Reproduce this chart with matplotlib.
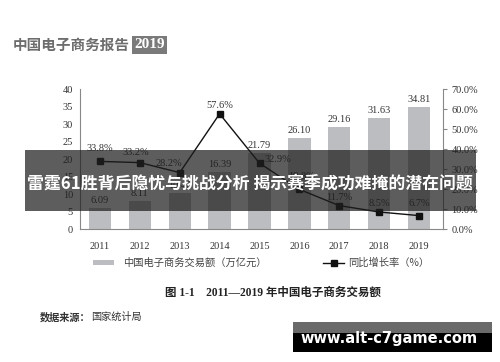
import matplotlib.pyplot as plt
from matplotlib.patches import Rectangle
from matplotlib.lines import Line2D

plt.rcParams['font.family'] = ['Liberation Serif', 'Noto Sans CJK SC']

years = ['2011', '2012', '2013', '2014', '2015', '2016', '2017', '2018', '2019']
volume = [6.09, 8.11, 10.40, 16.39, 21.79, 26.10, 29.16, 31.63, 34.81]
growth = [33.8, 33.2, 28.2, 57.6, 32.9, 19.8, 11.7, 8.5, 6.7]
left_ticks = [0, 5, 10, 15, 20, 25, 30, 35, 40]
right_ticks = [0, 10, 20, 30, 40, 50, 60, 70]

# label offsets for the growth labels (pixels)
growth_off = [(0, 8), (-4, 6), (-11, 5), (0, 4), (18, -1), (2, 8), (0, 4), (0, 4), (0, 8)]

bar_color = '#bcbdc0'
spine_color = '#888888'

fig = plt.figure(figsize=(5, 3.62), dpi=100)
ax = fig.add_axes([0.16, 0.3674, 0.726, 0.3867])
ax2 = ax.twinx()

x = list(range(len(years)))
ax.bar(x, volume, width=0.56, color=bar_color, zorder=2)
for xi, v in zip(x, volume):
    ax.annotate(f'{v:.2f}', (xi, v), xytext=(0, 3), textcoords='offset pixels',
                ha='center', va='bottom', fontsize=7.5, color='#333333')

ax.set_xlim(-0.5, 8.6)
ax.set_ylim(0, 40)
ax.set_xticks(x)
ax.set_xticklabels(years)
ax.set_yticks(left_ticks)
ax.tick_params(axis='both', length=0, labelsize=7.5, colors='#333333', pad=5)
ax.tick_params(axis='x', pad=9)
for s in ['top', 'right']:
    ax.spines[s].set_visible(False)
for s in ['left', 'bottom']:
    ax.spines[s].set_color(spine_color)
    ax.spines[s].set_linewidth(0.8)

ax2.plot(x, growth, color='#111111', lw=1.0, marker='s', ms=4, zorder=3)
for xi, g, (dx, dy) in zip(x, growth, growth_off):
    ax2.annotate(f'{g}%', (xi, g), xytext=(dx, dy), textcoords='offset pixels',
                 ha='center', va='bottom', fontsize=7.5, color='#333333')
ax2.set_ylim(0, 70)
ax2.set_yticks(right_ticks)
ax2.set_yticklabels([f'{t:.1f}%' for t in right_ticks])
ax2.tick_params(axis='y', length=3, width=0.8, color=spine_color, labelsize=7.5,
                labelcolor='#333333', pad=3)
for s in ['top', 'left', 'bottom']:
    ax2.spines[s].set_visible(False)
ax2.spines['right'].set_color(spine_color)
ax2.spines['right'].set_linewidth(0.8)

# header
fig.text(0.026, 0.876, '中国电子商务报告', family='Noto Sans CJK SC', fontweight='bold',
         fontsize=10.5, color='#6d6d6d', va='center')
fig.text(0.268, 0.876, '2019', fontweight='bold', fontsize=11, color='white', va='center',
         bbox=dict(boxstyle='square,pad=0.15', fc='#7a7a7a', ec='none'))

# legend
fig.patches.append(Rectangle((0.186, 0.267), 0.042, 0.016, transform=fig.transFigure,
                             fc=bar_color, ec='none'))
fig.text(0.246, 0.274, '中国电子商务交易额（万亿元）', family='Noto Sans CJK SC',
         fontsize=7.4, color='#444444', va='center')
fig.lines.append(Line2D([0.646, 0.688], [0.274, 0.274], transform=fig.transFigure,
                        color='#111111', lw=1.0))
fig.lines.append(Line2D([0.667], [0.274], transform=fig.transFigure,
                        color='#111111', marker='s', ms=4, lw=0))
fig.text(0.697, 0.274, '同比增长率（%）', family='Noto Sans CJK SC',
         fontsize=7.4, color='#444444', va='center')

# caption and source
fig.text(0.545, 0.19, '图 1-1　2011—2019 年中国电子商务交易额',
         family=['Liberation Serif', 'Noto Sans CJK SC'], fontweight='bold',
         fontsize=8.3, color='#222222', ha='center', va='center')
fig.text(0.08, 0.124, '数据来源：', family='Noto Sans CJK SC', fontweight='bold',
         fontsize=7.3, color='#333333', va='center')
fig.text(0.183, 0.124, '国家统计局', family='Noto Sans CJK SC',
         fontsize=7.3, color='#333333', va='center')

# banner overlay
fig.patches.append(Rectangle((0.05, 0.417), 0.902, 0.168, transform=fig.transFigure,
                             fc='#1e1e1e', ec='none', alpha=0.72, zorder=5))
fig.text(0.5, 0.494, '雷霆61胜背后隐忧与挑战分析 揭示赛季成功难掩的潜在问题',
         family='Noto Sans CJK SC', fontweight='bold', fontsize=12.2, color='white',
         ha='center', va='center', zorder=6)

# watermark box
fig.patches.append(Rectangle((0.586, 0.028), 0.398, 0.082, transform=fig.transFigure,
                             fc='black', ec='none', zorder=5))
fig.patches.append(Rectangle((0.586, 0.08), 0.398, 0.03, transform=fig.transFigure,
                             fc='#6a6a6a', ec='none', zorder=5))
fig.text(0.778, 0.066, 'www.alt-c7game.com', family='DejaVu Sans', fontweight='bold',
         fontsize=10.5, color='white', ha='center', va='center', zorder=6)

fig.savefig('out.png', dpi=100)
